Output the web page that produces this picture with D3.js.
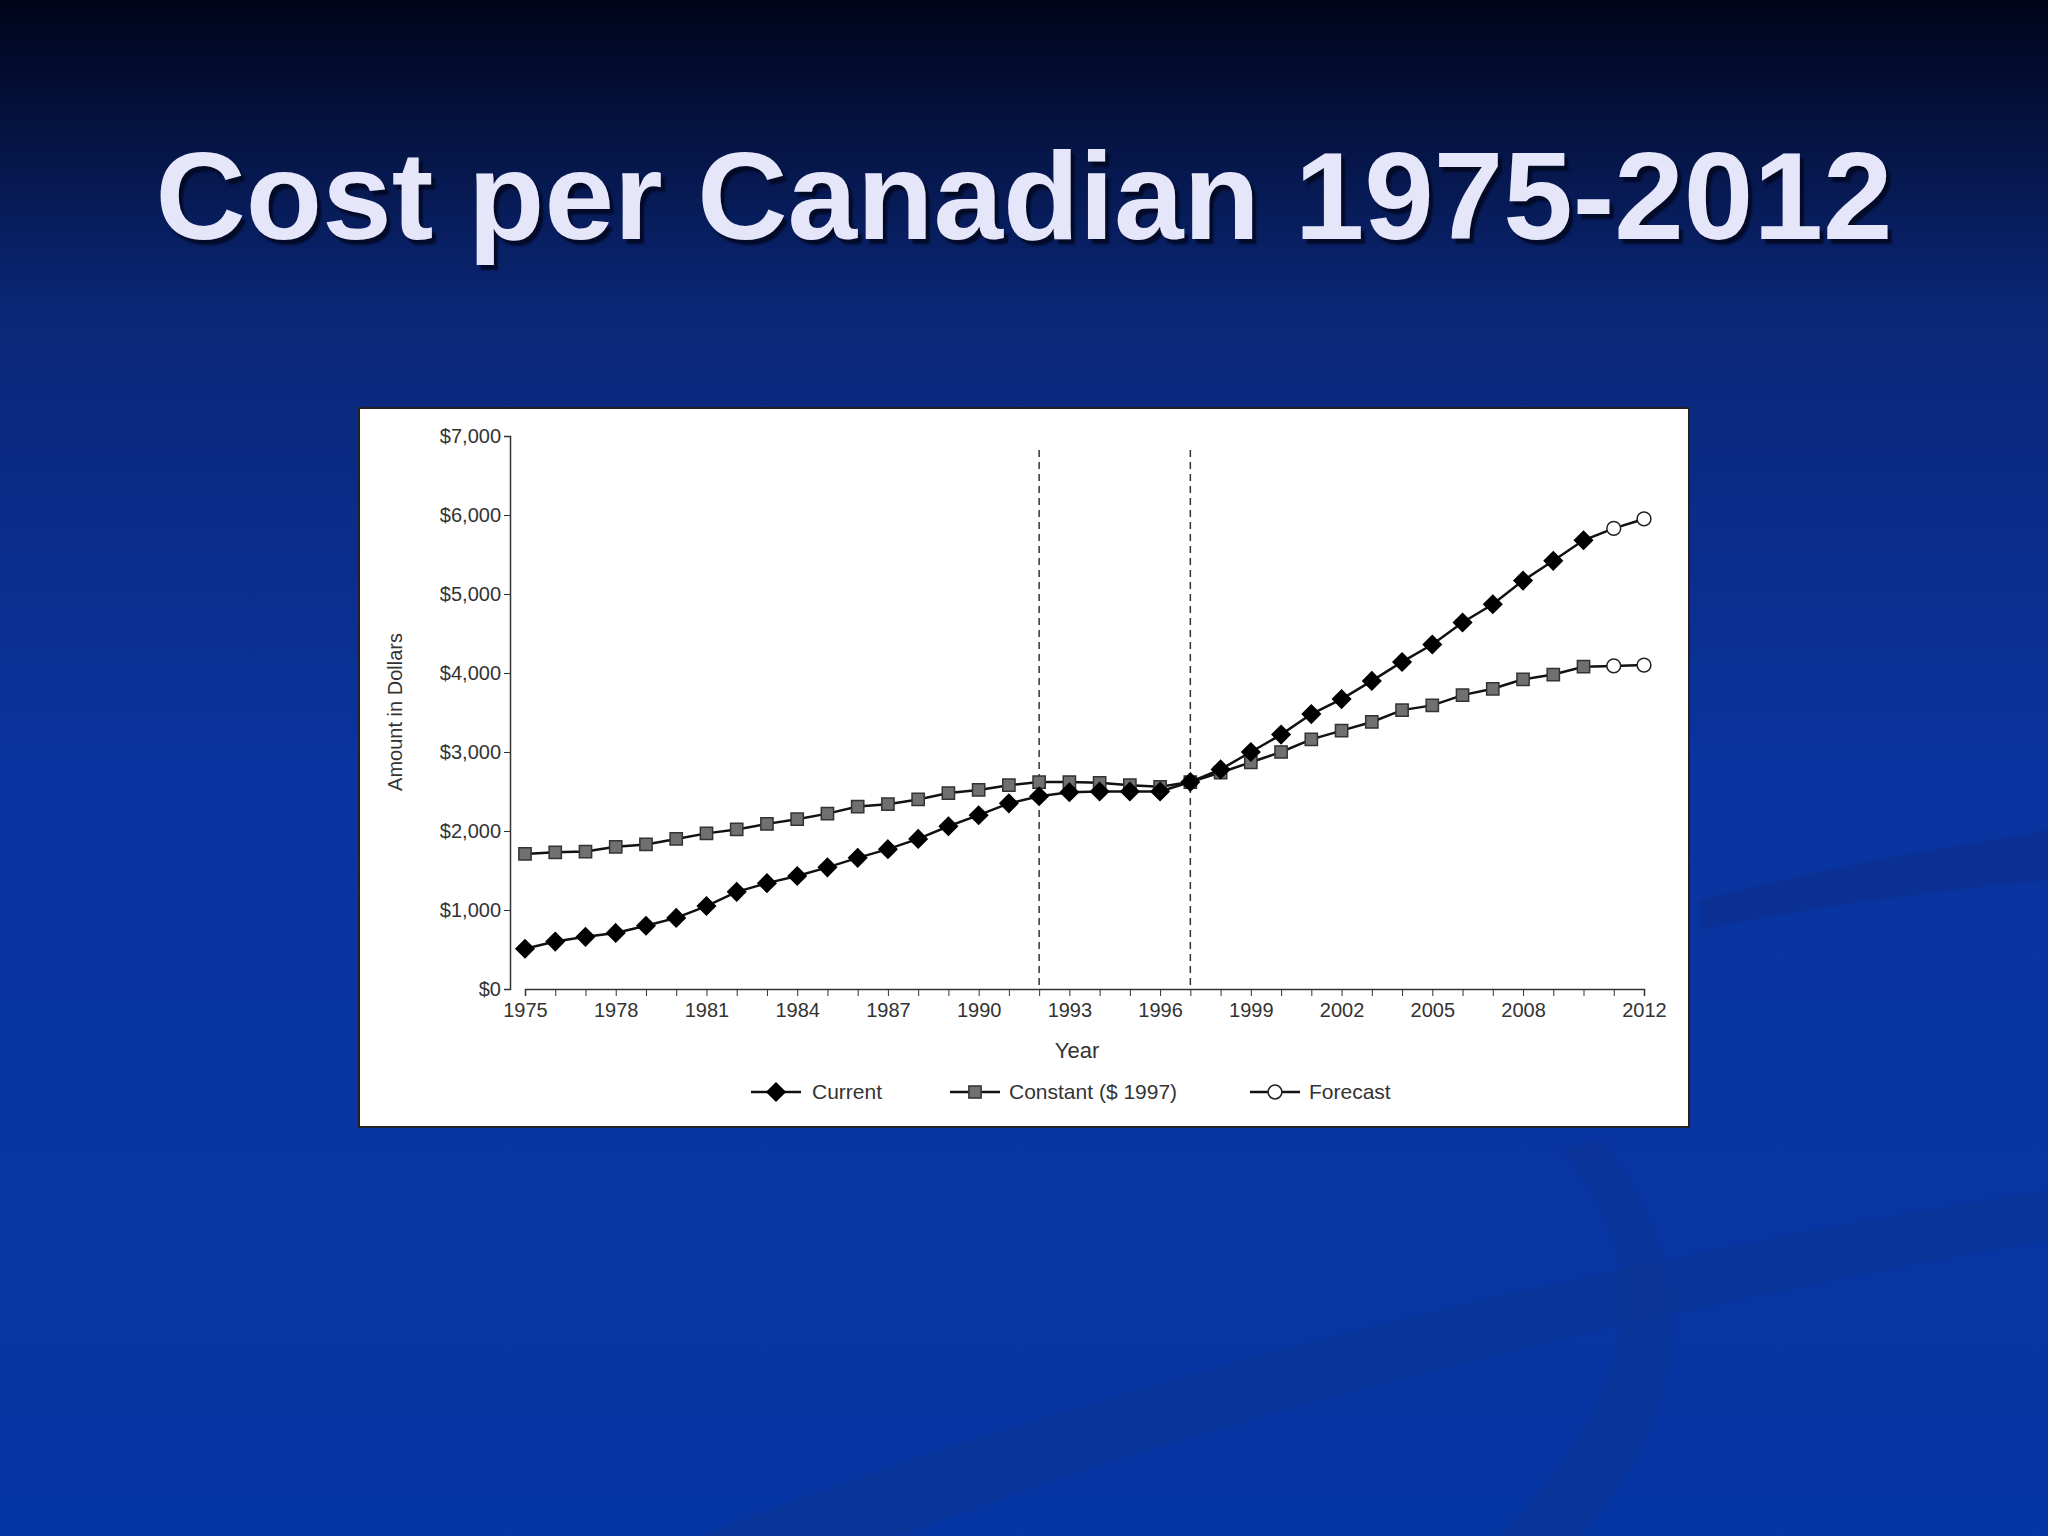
<!DOCTYPE html>
<html><head><meta charset="utf-8">
<script src="https://cdn.jsdelivr.net/npm/d3@7"></script>
<style>body{margin:0;background:#000}svg{display:block}</style>
</head><body><div id="chart"></div>
<script>
// values
const YEARS = d3.range(1975, 2013);
const CURRENT = [510,600,660,710,800,900,1050,1230,1340,1430,1540,1660,1770,1900,2060,2200,2350,2440,2490,2500,2500,2500,2620,2780,3000,3220,3480,3670,3900,4140,4360,4640,4870,5170,5420,5680,5830,5950];
const CONSTANT = [1710,1730,1740,1800,1830,1900,1970,2020,2090,2150,2220,2310,2340,2400,2480,2520,2580,2620,2620,2610,2580,2560,2620,2740,2870,3000,3160,3270,3380,3530,3590,3720,3800,3920,3980,4080,4090,4100];
const FORECAST_FROM = 2011;
const Y_TICKS = [0,1000,2000,3000,4000,5000,6000,7000];
const X_LABELS = [1975,1978,1981,1984,1987,1990,1993,1996,1999,2002,2005,2008,2012];
const DASH_YEARS = [1992, 1997];
const LEGEND = ["Current", "Constant ($ 1997)", "Forecast"];

const W = 2048, H = 1536;
const svg = d3.select("#chart").append("svg").attr("width", W).attr("height", H);
const defs = svg.append("defs");
const bg = defs.append("linearGradient").attr("id","bg").attr("x1",0).attr("x2",0).attr("y1",0).attr("y2",1);
bg.append("stop").attr("offset","0").attr("stop-color","#01051a");
bg.append("stop").attr("offset","0.2").attr("stop-color","#0a2676");
bg.append("stop").attr("offset","0.5").attr("stop-color","#0a34a0");
bg.append("stop").attr("offset","1").attr("stop-color","#0636a4");
svg.append("rect").attr("width",W).attr("height",H).attr("fill","url(#bg)");

// faint swooshes
svg.append("path").attr("d","M1700 900 C1900 850 2000 840 2048 830 L2048 880 C1950 890 1850 900 1700 930 Z").attr("fill","#0b2f8a").attr("opacity",0.6);
svg.append("path").attr("d","M700 1536 C1100 1380 1600 1260 2048 1190 L2048 1240 C1600 1320 1200 1420 900 1536 Z").attr("fill","#0b3392").attr("opacity",0.6);
svg.append("path").attr("d","M1500 1536 C1650 1380 1650 1250 1560 1150 L1600 1140 C1700 1260 1700 1400 1580 1536 Z").attr("fill","#0b3392").attr("opacity",0.5);

// title
svg.append("text").attr("x",1024).attr("y",239).attr("text-anchor","middle")
  .style("font-family","'Liberation Sans',Arial,sans-serif").style("font-weight","bold").style("font-size","125px")
  .style("text-shadow","4px 5px 2px rgba(2,8,32,0.85)")
  .attr("fill","#e6e6fa").text("Cost per Canadian 1975-2012");

// chart panel
svg.append("rect").attr("x",359).attr("y",408).attr("width",1330).attr("height",719)
  .attr("fill","#fff").attr("stroke","#222").attr("stroke-width",2);

const FONT = "'Liberation Sans Narrow','Arial Narrow','Liberation Sans',sans-serif";
const x = d3.scaleLinear().domain([1975, 2012]).range([525, 1644]);
const y = d3.scaleLinear().domain([0, 7000]).range([989, 436]);
const g = svg.append("g");

// axes
g.append("g").attr("transform","translate(0,989)")
  .call(d3.axisBottom(x).tickValues(YEARS).tickSize(7).tickFormat(d => X_LABELS.includes(d) ? d : ""))
  .call(ax => { ax.select(".domain").attr("stroke","#333").attr("stroke-width",1.5);
    ax.selectAll("line").attr("stroke","#333");
    ax.selectAll("text").style("font-family",FONT).style("font-size","20px").attr("fill","#333").attr("dy","0.9em"); });
g.append("g").attr("transform","translate(510,0)")
  .call(d3.axisLeft(y).tickValues(Y_TICKS).tickSize(6).tickFormat(d => "$" + d3.format(",")(d)))
  .call(ax => { ax.select(".domain").attr("stroke","#333").attr("stroke-width",1.5);
    ax.selectAll("line").attr("stroke","#333");
    ax.selectAll("text").style("font-family",FONT).style("font-size","20px").attr("fill","#333"); });

g.append("text").attr("x",1077).attr("y",1058).attr("text-anchor","middle")
  .style("font-family",FONT).style("font-size","22px").attr("fill","#333").text("Year");
g.append("text").attr("transform","translate(402,712) rotate(-90)").attr("text-anchor","middle")
  .style("font-family",FONT).style("font-size","20px").attr("fill","#333").text("Amount in Dollars");

// dashed reference lines
DASH_YEARS.forEach(d => g.append("line").attr("x1",x(d)).attr("x2",x(d)).attr("y1",450).attr("y2",989)
  .attr("stroke","#333").attr("stroke-width",1.5).attr("stroke-dasharray","7,5"));

const line = d3.line().x(d => x(d.year)).y(d => y(d.v));
const cur = YEARS.map((yr,i) => ({year: yr, v: CURRENT[i]}));
const con = YEARS.map((yr,i) => ({year: yr, v: CONSTANT[i]}));

g.append("path").datum(con).attr("d", line).attr("fill","none").attr("stroke","#111").attr("stroke-width",2.5);
g.append("path").datum(cur).attr("d", line).attr("fill","none").attr("stroke","#111").attr("stroke-width",2.5);

const diamond = () => "M0,-9L9,0L0,9L-9,0Z";
const square = d3.symbol().type(d3.symbolSquare).size(150);
const circle = d3.symbol().type(d3.symbolCircle).size(150);

function marks(data, sym, fill, stroke) {
  g.selectAll(null).data(data).enter().append("path")
    .attr("transform", d => `translate(${x(d.year)},${y(d.v)})`)
    .attr("d", d => d.year >= FORECAST_FROM ? circle() : sym())
    .attr("fill", d => d.year >= FORECAST_FROM ? "#fff" : fill)
    .attr("stroke", d => d.year >= FORECAST_FROM ? "#222" : stroke).attr("stroke-width",1.5);
}
marks(con, square, "#707070", "#333");
marks(cur, diamond, "#000", "#000");

// legend
const lg = g.append("g");
const syms = [[diamond,"#000","#000"],[square,"#707070","#333"],[circle,"#fff","#222"]];
[[751,812],[950,1009],[1250,1309]].forEach(([lx,tx],i) => {
  lg.append("line").attr("x1",lx).attr("x2",lx+50).attr("y1",1092).attr("y2",1092).attr("stroke","#111").attr("stroke-width",2.5);
  lg.append("path").attr("transform",`translate(${lx+25},1092)`).attr("d",syms[i][0]())
    .attr("fill",syms[i][1]).attr("stroke",syms[i][2]).attr("stroke-width",1.5);
  lg.append("text").attr("x",tx).attr("y",1099).style("font-family",FONT).style("font-size","21px")
    .attr("fill","#333").text(LEGEND[i]);
});
</script></body></html>
